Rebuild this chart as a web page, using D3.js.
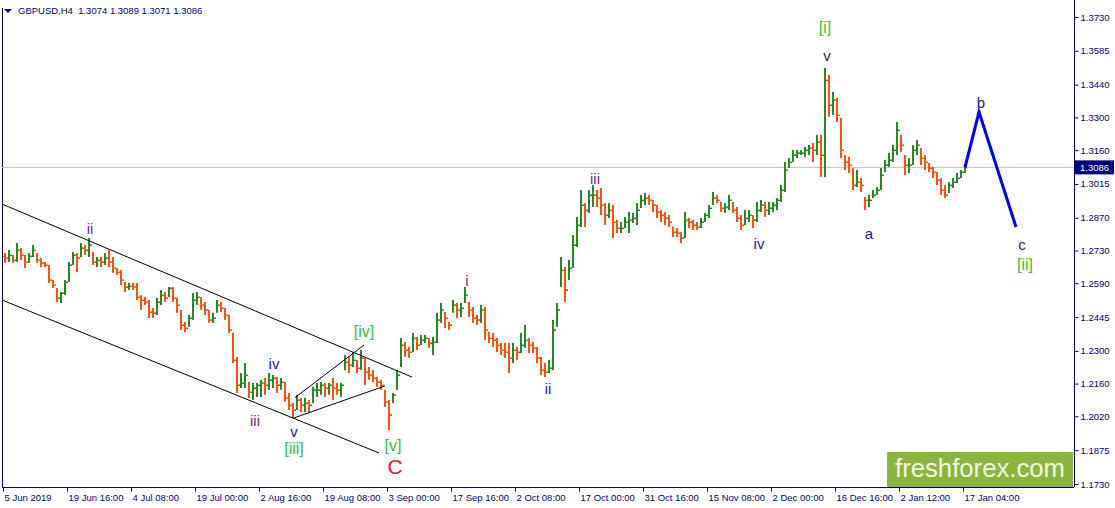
<!DOCTYPE html>
<html><head><meta charset="utf-8">
<script src="https://cdn.jsdelivr.net/npm/d3@7"></script>
<style>
body{margin:0;background:#fff;overflow:hidden}
svg{display:block}
text{font-family:"Liberation Sans",Arial,sans-serif}
</style>
</head><body>
<svg id="chart" width="1115" height="508"></svg>
<script>
// ---------- DATA ----------
const symbolTitle = "GBPUSD,H4  1.3074 1.3089 1.3071 1.3086";
const firstOpen = 1.2705;
const barHigh = [
1.2719,1.2732,1.2711,1.2762,1.2741,1.2711,1.2719,1.2754,1.2719,1.2698,1.2681,1.2668,1.2604,1.2569,1.2552,1.2604,
1.2681,1.2724,1.2719,1.2762,1.2754,1.2784,1.2724,1.2702,1.2702,1.2719,1.2732,1.2702,1.2655,1.2646,1.2595,1.2591,
1.2591,1.2591,1.2539,1.2531,1.2518,1.2484,1.2527,1.2561,1.2552,1.2574,1.2574,1.2527,1.2476,1.2424,1.2454,1.2548,
1.2552,1.2531,1.2510,1.2476,1.2463,1.2518,1.2510,1.2484,1.2454,1.2377,1.2274,1.2205,1.2248,1.2167,1.2163,1.2163,
1.2176,1.2184,1.2205,1.2197,1.2188,1.2184,1.2167,1.2120,1.2077,1.2112,1.2099,1.2099,1.2090,1.2146,1.2163,1.2167,
1.2163,1.2163,1.2184,1.2163,1.2163,1.2282,1.2274,1.2295,1.2261,1.2304,1.2270,1.2231,1.2218,1.2188,1.2176,1.2133,
1.2090,1.2120,1.2218,1.2355,1.2338,1.2317,1.2377,1.2360,1.2368,1.2368,1.2355,1.2360,1.2463,1.2505,1.2467,1.2424,
1.2518,1.2505,1.2505,1.2574,1.2510,1.2488,1.2454,1.2497,1.2488,1.2381,1.2377,1.2355,1.2334,1.2334,1.2334,1.2334,
1.2317,1.2377,1.2411,1.2355,1.2338,1.2317,1.2274,1.2248,1.2261,1.2433,1.2505,1.2702,1.2659,1.2689,1.2796,1.2874,
1.2989,1.2933,1.2989,1.3010,1.2989,1.2998,1.2933,1.2933,1.2925,1.2861,1.2852,1.2874,1.2895,1.2891,1.2933,1.2968,
1.2976,1.2968,1.2946,1.2925,1.2903,1.2895,1.2882,1.2831,1.2826,1.2809,1.2895,1.2869,1.2861,1.2852,1.2869,1.2891,
1.2925,1.2981,1.2968,1.2938,1.2933,1.2968,1.2938,1.2916,1.2882,1.2903,1.2903,1.2882,1.2938,1.2946,1.2938,1.2938,
1.2938,1.2955,1.3010,1.3109,1.3126,1.3160,1.3160,1.3160,1.3173,1.3182,1.3191,1.3225,1.3225,1.3512,1.3482,1.3409,
1.3383,1.3297,1.3139,1.3131,1.3083,1.3075,1.3040,1.2959,1.2968,1.2989,1.3002,1.3083,1.3118,1.3148,1.3182,1.3280,
1.3225,1.3139,1.3126,1.3182,1.3203,1.3169,1.3139,1.3105,1.3088,1.3066,1.3040,1.3010,1.3023,1.3040,1.3062,1.3075,
1.3096];
const barLow = [
1.2677,1.2681,1.2677,1.2681,1.2689,1.2655,1.2677,1.2702,1.2677,1.2659,1.2659,1.2591,1.2569,1.2510,1.2505,1.2539,
1.2595,1.2668,1.2638,1.2702,1.2711,1.2702,1.2668,1.2659,1.2659,1.2668,1.2659,1.2634,1.2625,1.2582,1.2552,1.2561,
1.2561,1.2518,1.2476,1.2497,1.2441,1.2441,1.2454,1.2497,1.2510,1.2531,1.2510,1.2463,1.2390,1.2381,1.2403,1.2433,
1.2497,1.2476,1.2454,1.2420,1.2420,1.2463,1.2467,1.2433,1.2377,1.2248,1.2120,1.2141,1.2141,1.2099,1.2090,1.2103,
1.2103,1.2112,1.2133,1.2141,1.2120,1.2133,1.2082,1.2047,1.2013,1.2047,1.2038,1.2038,1.2038,1.2077,1.2103,1.2112,
1.2103,1.2112,1.2090,1.2112,1.2103,1.2218,1.2205,1.2231,1.2205,1.2218,1.2154,1.2176,1.2167,1.2146,1.2133,1.2060,
1.1961,1.2077,1.2133,1.2231,1.2274,1.2270,1.2295,1.2304,1.2325,1.2334,1.2313,1.2282,1.2334,1.2420,1.2398,1.2390,
1.2463,1.2441,1.2445,1.2505,1.2445,1.2420,1.2411,1.2420,1.2347,1.2334,1.2317,1.2295,1.2282,1.2270,1.2205,1.2248,
1.2261,1.2291,1.2313,1.2291,1.2291,1.2248,1.2197,1.2188,1.2205,1.2218,1.2403,1.2574,1.2510,1.2604,1.2655,1.2745,
1.2831,1.2831,1.2891,1.2916,1.2916,1.2882,1.2839,1.2869,1.2784,1.2805,1.2805,1.2826,1.2805,1.2848,1.2839,1.2912,
1.2925,1.2925,1.2895,1.2869,1.2852,1.2839,1.2831,1.2788,1.2788,1.2762,1.2784,1.2826,1.2818,1.2818,1.2826,1.2852,
1.2869,1.2925,1.2933,1.2895,1.2891,1.2903,1.2891,1.2852,1.2818,1.2839,1.2852,1.2826,1.2852,1.2895,1.2874,1.2882,
1.2895,1.2903,1.2938,1.2981,1.3083,1.3109,1.3126,1.3139,1.3131,1.3139,1.3109,1.3139,1.3045,1.3045,1.3302,1.3310,
1.3280,1.3126,1.3075,1.3062,1.2989,1.3002,1.2981,1.2903,1.2916,1.2955,1.2968,1.2989,1.3066,1.3088,1.3109,1.3139,
1.3152,1.3053,1.3062,1.3096,1.3139,1.3096,1.3075,1.3066,1.3040,1.3010,1.2968,1.2955,1.2976,1.2998,1.3019,1.3040,
1.3062];
const barClose = [
1.2698,1.2711,1.2689,1.2732,1.2711,1.2681,1.2706,1.2732,1.2689,1.2677,1.2668,1.2604,1.2582,1.2527,1.2548,1.2595,
1.2668,1.2711,1.2698,1.2741,1.2732,1.2754,1.2681,1.2689,1.2681,1.2698,1.2681,1.2655,1.2638,1.2604,1.2574,1.2578,
1.2574,1.2531,1.2518,1.2510,1.2467,1.2463,1.2510,1.2539,1.2527,1.2569,1.2527,1.2497,1.2411,1.2398,1.2441,1.2518,
1.2531,1.2497,1.2476,1.2433,1.2441,1.2497,1.2484,1.2454,1.2390,1.2261,1.2154,1.2163,1.2197,1.2124,1.2141,1.2154,
1.2163,1.2154,1.2176,1.2184,1.2154,1.2167,1.2099,1.2068,1.2047,1.2090,1.2068,1.2077,1.2068,1.2133,1.2133,1.2154,
1.2141,1.2154,1.2141,1.2133,1.2154,1.2252,1.2240,1.2261,1.2227,1.2270,1.2210,1.2197,1.2184,1.2167,1.2154,1.2082,
1.2026,1.2112,1.2197,1.2325,1.2304,1.2295,1.2355,1.2325,1.2347,1.2355,1.2334,1.2338,1.2433,1.2476,1.2441,1.2411,
1.2497,1.2476,1.2484,1.2539,1.2476,1.2441,1.2433,1.2476,1.2390,1.2355,1.2347,1.2325,1.2304,1.2295,1.2270,1.2304,
1.2295,1.2325,1.2347,1.2325,1.2313,1.2270,1.2218,1.2210,1.2227,1.2390,1.2476,1.2646,1.2561,1.2655,1.2754,1.2839,
1.2925,1.2903,1.2968,1.2968,1.2955,1.2925,1.2882,1.2903,1.2852,1.2826,1.2826,1.2852,1.2861,1.2869,1.2903,1.2946,
1.2955,1.2946,1.2925,1.2895,1.2882,1.2869,1.2852,1.2809,1.2805,1.2784,1.2861,1.2852,1.2839,1.2831,1.2852,1.2882,
1.2912,1.2955,1.2946,1.2912,1.2916,1.2946,1.2903,1.2869,1.2839,1.2869,1.2882,1.2861,1.2903,1.2925,1.2903,1.2912,
1.2925,1.2946,1.2989,1.3075,1.3109,1.3139,1.3148,1.3148,1.3160,1.3169,1.3160,1.3195,1.3139,1.3460,1.3353,1.3375,
1.3310,1.3160,1.3109,1.3096,1.3010,1.3023,1.3010,1.2946,1.2946,1.2968,1.2989,1.3053,1.3096,1.3118,1.3160,1.3246,
1.3182,1.3096,1.3096,1.3160,1.3182,1.3126,1.3109,1.3083,1.3066,1.3032,1.2989,1.2968,1.3010,1.3023,1.3040,1.3066,
1.3086];
const dateLabels = ["5 Jun 2019","19 Jun 16:00","4 Jul 08:00","19 Jul 00:00","2 Aug 16:00","19 Aug 08:00",
  "3 Sep 00:00","17 Sep 16:00","2 Oct 08:00","17 Oct 00:00","31 Oct 16:00","15 Nov 08:00","2 Dec 00:00",
  "16 Dec 16:00","2 Jan 12:00","17 Jan 04:00"];
const dateLabelBars = [0,16,32,48,64,80,96,112,128,144,160,176,192,208,224,240];
const priceTicks = [1.3730,1.3585,1.3440,1.3300,1.3160,1.3015,1.2870,1.2730,1.2590,1.2445,1.2300,1.2160,1.2020,1.1875,1.1730];
const lastPrice = 1.3086;
const projBars = [240, 243.5, 252.75];
const projPrices = [1.3086, 1.3323, 1.2831];
const channelUpper = [[-0.75,1.2929],[101.75,1.2188]];
const channelLower = [[-0.75,1.2518],[93.5,1.1863]];
const wedgeUpper = [[72.5,1.2100],[89.75,1.2325]];
const wedgeLower = [[72.25,1.2013],[95,1.2150]];
const waveText  = ["ii","iii","iv","v","[iii]","[iv]","[v]","C","i","ii","iii","iv","[i]","v","a","b","c","[ii]"];
const waveBar   = [21.25,62.5,67.25,72.25,72.25,89.75,97,97.5,115.5,135.75,147.5,188.5,205,205.5,216,244,254.25,255];
const wavePrice = [1.2826,1.2004,1.2248,1.1953,1.1880,1.2381,1.1897,1.1807,1.2600,1.2141,1.3040,1.2758,1.3687,1.3567,1.2801,1.3362,1.2754,1.2668];
const waveDegree= ["minor","minor","sub","sub","minute","minute","minute","inter","minor","sub","minor","sub","minute","sub","sub","sub","sub","minute"];
const brandText = "freshforex.com";

// ---------- DRAW ----------
const W = 1115, H = 508;
const plot = {left: 2, right: 1074, top: 0, bottom: 487};
const svg = d3.select("#chart");
const x = d3.scaleLinear().domain([0, 240]).range([3, 963]);
const y = d3.scaleLinear().domain([1.1730, 1.3730]).range([484, 17]);

const navy = "#000080";
const upColor = "#228b22", downColor = "#ff5010";

svg.append("rect").attr("x", 0).attr("y", 0).attr("width", W).attr("height", H).attr("fill", "#fff");
svg.append("line").attr("x1", plot.left + 0.5).attr("x2", plot.left + 0.5).attr("y1", 8).attr("y2", plot.bottom)
  .attr("stroke", navy);

// last price line
svg.append("line").attr("x1", plot.left).attr("x2", plot.right).attr("y1", Math.round(y(lastPrice)) + 0.5)
  .attr("y2", Math.round(y(lastPrice)) + 0.5).attr("stroke", "#c8c8c8");

// bars (OHLC style)
const bars = barClose.map((c, i) => ({i, h: barHigh[i], l: barLow[i], c, o: i === 0 ? firstOpen : barClose[i - 1]}));
const gb = svg.append("g").selectAll("g").data(bars).join("g")
  .attr("fill", d => d.c >= d.o ? upColor : downColor);
gb.append("rect")
  .attr("x", d => x(d.i) + 1)
  .attr("width", 2)
  .attr("y", d => y(d.h))
  .attr("height", d => Math.max(1, y(d.l) - y(d.h)));
gb.append("rect").attr("x", d => x(d.i)).attr("width", 1).attr("y", d => y(d.o) - 0.5).attr("height", 1.5);
gb.append("rect").attr("x", d => x(d.i) + 3).attr("width", 1).attr("y", d => y(d.c) - 0.5).attr("height", 1.5);

// trendlines
const lineGen = d3.line().x(d => x(d[0]) + 2).y(d => y(d[1]));
[channelUpper, channelLower, wedgeUpper, wedgeLower].forEach(seg => {
  svg.append("path").attr("d", lineGen(seg)).attr("fill", "none").attr("stroke", "#000").attr("stroke-width", 1);
});

// projection
const proj = projBars.map((b, k) => [b, projPrices[k]]);
svg.append("path").attr("d", lineGen(proj)).attr("fill", "none").attr("stroke", "#0000ff").attr("stroke-width", 3);

// wave labels
const degStyle = {
  minor:  {fill: "#6a2a9c", size: 15},
  sub:    {fill: "#1c1c8c", size: 15},
  minute: {fill: "#33c233", size: 16},
  inter:  {fill: "#e8102c", size: 21}
};
svg.append("g").selectAll("text").data(waveText).join("text")
  .attr("x", (t, k) => x(waveBar[k]) + 2)
  .attr("y", (t, k) => y(wavePrice[k]))
  .attr("text-anchor", "middle")
  .attr("dominant-baseline", "central")
  .attr("font-size", (t, k) => degStyle[waveDegree[k]].size)
  .attr("fill", (t, k) => degStyle[waveDegree[k]].fill)
  .text(t => t);

// logo
const logo = svg.append("g");
logo.append("rect").attr("x", 887).attr("y", 452).attr("width", 186).attr("height", 35).attr("fill", "#8db43c");
logo.append("text").attr("x", 980).attr("y", 477).attr("text-anchor", "middle")
  .attr("font-family", "'Open Sans', sans-serif").attr("font-size", 25).attr("fill", "#f2f7e6")
  .attr("textLength", 170).attr("lengthAdjust", "spacingAndGlyphs").text(brandText);

// y axis (right)
const yAxis = d3.axisRight(y).tickValues(priceTicks).tickSize(4).tickPadding(2).tickFormat(d3.format(".4f"));
const gy = svg.append("g").attr("transform", `translate(${plot.right + 0.5},0)`).call(yAxis);
gy.select(".domain").attr("stroke", navy).attr("d", `M0,0V${plot.bottom}`);
gy.selectAll(".tick line").attr("stroke", navy);
gy.selectAll(".tick text").attr("fill", navy).attr("font-size", 9.5).attr("font-family", "'Liberation Sans',Arial,sans-serif");

// x axis (bottom)
const xAxis = d3.axisBottom(x).tickValues(dateLabelBars).tickSize(4).tickPadding(3)
  .tickFormat((d, k) => dateLabels[k]);
const gx = svg.append("g").attr("transform", `translate(0,${plot.bottom + 0.5})`).call(xAxis);
gx.select(".domain").attr("stroke", navy).attr("d", `M${plot.left},0H${plot.right}`);
gx.selectAll(".tick line").attr("stroke", navy);
gx.selectAll(".tick text").attr("fill", navy).attr("font-size", 9.5).attr("text-anchor", "start")
  .attr("font-family", "'Liberation Sans',Arial,sans-serif").attr("dx", 1);

// last price tag
const tagY = y(lastPrice);
svg.append("rect").attr("x", plot.right + 1).attr("y", tagY - 7).attr("width", 39).attr("height", 14).attr("fill", navy);
svg.append("text").attr("x", plot.right + 6).attr("y", tagY).attr("dominant-baseline", "central")
  .attr("font-size", 9.5).attr("fill", "#fff").text(d3.format(".4f")(lastPrice));

// title
svg.append("path").attr("d", "M4,9L12,9L8,13Z").attr("fill", navy);
svg.append("text").attr("x", 18).attr("y", 14).attr("font-size", 9.5).attr("fill", navy)
  .style("white-space", "pre").text(symbolTitle);
</script>
</body></html>
